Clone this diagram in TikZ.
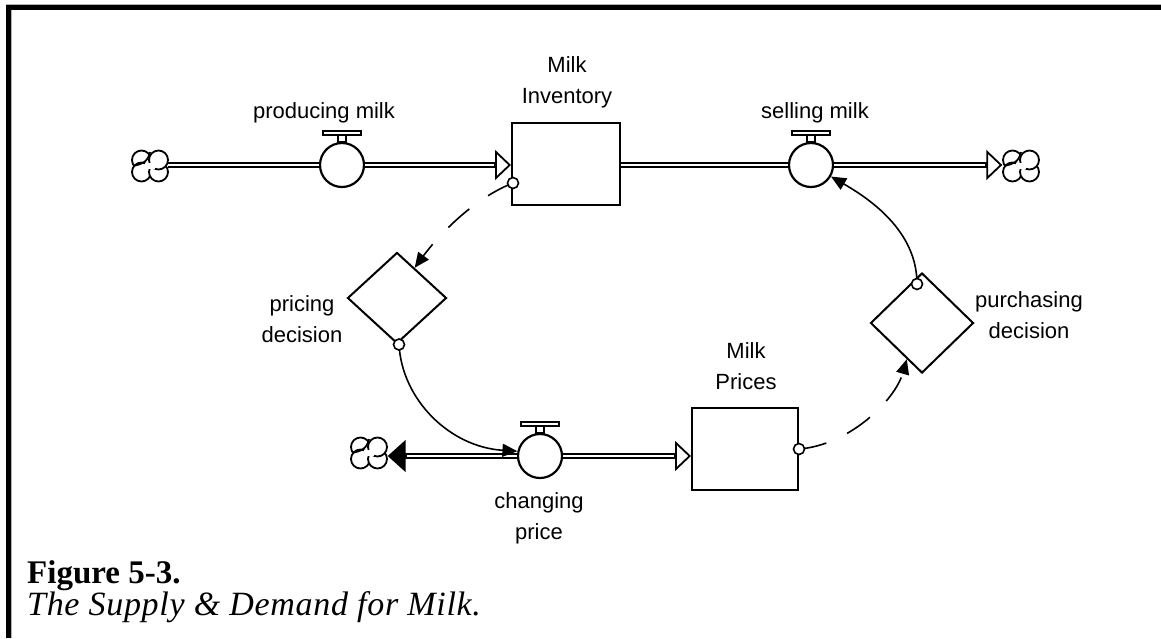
\documentclass[tikz,border=0pt]{standalone}
\usepackage{fontspec}
\setmainfont{Liberation Serif}
\newfontfamily\arialfont{Liberation Sans}
\usetikzlibrary{shapes.geometric,arrows.meta,calc}
\begin{document}
\begin{tikzpicture}[x=1pt,y=-1pt,
  lbl/.style={font=\arialfont\fontsize{22}{31}\selectfont, align=center, inner sep=0},
  stock/.style={draw, line width=2pt, minimum width=108pt, minimum height=82pt, inner sep=0, fill=white},
  valve/.style={circle, draw, line width=2.2pt, minimum size=44pt, inner sep=0, fill=white},
  aux/.style={diamond, draw, line width=2pt, inner sep=0, fill=white},
  src/.style={inner sep=0, minimum width=37pt, minimum height=29pt},
  puff/.style={draw, line width=1.8pt, fill=white},
  pipe/.style={double, double distance=2.6pt, line width=1.8pt},
  intip/.style={-{Triangle[length=16pt,width=30pt,fill=white]}, line width=1.8pt},
  outtip/.style={-{Triangle[length=18pt,width=32pt]}, line width=1.8pt},
  link/.style={line width=1.6pt, -{Triangle[length=15pt,width=13pt]}},
  dlink/.style={link, dash pattern=on 28pt off 23pt},
  tap/.style={draw, line width=1.6pt, fill=white},
  capb/.style={anchor=base west, inner sep=0, font=\bfseries\fontsize{33}{36}\selectfont},
  capi/.style={anchor=base west, inner sep=0, font=\itshape\fontsize{34}{36}\selectfont\addfontfeature{LetterSpace=2}},
]
\useasboundingbox (0,0) rectangle (1161,638);
% frame
\fill[gray!60] (6,4) rectangle (1161,5);
\fill (6,5) rectangle (1161,10);
\fill (6,5) rectangle (11,638);
\fill[gray!60] (11,10) rectangle (12,638);

% stocks
\node[stock] (inv) at (566,164) {};
\node[stock, minimum width=106pt] (mp) at (745,449) {};
% valves
\node[valve] (pm) at (342,165) {};
\node[valve] (sm) at (811,165) {};
\node[valve] (cp) at (540,456) {};
\foreach \v in {pm,sm,cp} {
  \draw[line width=1.4pt, fill=white] ($(\v.north)+(-4,0)$) rectangle ($(\v.north)+(4,-7)$);
  \draw[line width=1.4pt, fill=white] ($(\v.north)+(-19,-7)$) rectangle ($(\v.north)+(19,-11)$);
}
% clouds
\node[src] (c1) at (150,166) {};
\node[src] (c2) at (1021,166) {};
\node[src] (c3) at (369,453) {};
\foreach \c in {c1,c2,c3} {
  \draw[puff] ($(\c)+(-8.5,-6)$) circle[radius=9.5];
  \draw[puff] ($(\c)+(-8.5,6)$) circle[radius=9.5];
  \draw[puff] ($(\c)+(8.5,6)$) circle[radius=9.5];
  \draw[puff] ($(\c)+(8.5,-6)$) circle[radius=9.5];
  \fill[white] ($(\c)+(-5,-3)$) rectangle ($(\c)+(5,3)$);
  \draw[line width=1.8pt] ($(\c)+(-17,0)$) .. controls ($(\c)+(-8,-2)$) and ($(\c)+(-2,-4)$) .. ($(\c)+(0,-14)$);
}

% auxiliaries
\node[aux, minimum width=99pt, minimum height=91pt] (pd) at (397,298) {};
\node[aux, minimum width=103pt, minimum height=100pt] (pu) at (922,323) {};

% flows
\draw[pipe] ($(c1.east |- pm)+(-1,0)$) -- (pm.west);
\draw[pipe] (pm.east) -- ($(inv.west |- pm)+(-14,0)$);
\draw[intip] ($(inv.west |- pm)+(-17,0)$) -- (inv.west |- pm);
\draw[pipe] (inv.east |- sm) -- (sm.west);
\draw[pipe] (sm.east) -- ($(c2.west |- sm)+(-14,0)$);
\draw[intip] ($(c2.west |- sm)+(-17,0)$) -- (c2.west |- sm);
\draw[pipe] (cp.east) -- ($(mp.west |- cp)+(-14,0)$);
\draw[intip] ($(mp.west |- cp)+(-17,0)$) -- (mp.west |- cp);
\draw[pipe] (cp.west) -- ($(c3.east |- cp)+(16,0)$);
\draw[outtip] ($(c3.east |- cp)+(19,0)$) -- (c3.east |- cp);

% information links
\coordinate (invo) at ($(inv.south west)+(2,-23)$);
\draw[dlink] (invo) .. controls (470,200) and (435,240) .. ($(pd.north)!0.35!(pd.east)$);
\draw[tap] (invo) circle[radius=5.5];

\coordinate (pdo) at ($(pd.south)+(2,0)$);
\draw[link] (pdo) .. controls (402,400) and (450,447) .. (cp.168);
\draw[tap] (pdo) circle[radius=5.5];

\coordinate (mpo) at (mp.east);
\draw[dlink] (mpo) .. controls (850,445) and (895,400) .. ($(pu.south)!0.29!(pu.west)$);
\draw[tap] (mpo) circle[radius=5.5];

\coordinate (puo) at ($(pu.north)+(-5,12)$);
\draw[link] (puo) .. controls (917,230) and (868,198) .. (sm.-30);
\draw[tap] (puo) circle[radius=5.5];

% labels
\node[lbl] (invl) at (567,82) {Milk\\Inventory};
\node[lbl] (pml) at (324,113) {producing milk};
\node[lbl] (sml) at (815,113) {selling milk};
\node[lbl] (pdl) at (302,319) {pricing\\decision};
\node[lbl] (pul) at (1029,315) {purchasing\\decision};
\node[lbl] (mpl) at (746,366) {Milk\\Prices};
\node[lbl] (cpl) at (539,518) {changing\\price};

% caption
\node[capb] (fig) at (27,583) {Figure 5-3.};
\node[capi] (figt) at (27,615) {The Supply \& Demand for Milk.};
\end{tikzpicture}
\end{document}
